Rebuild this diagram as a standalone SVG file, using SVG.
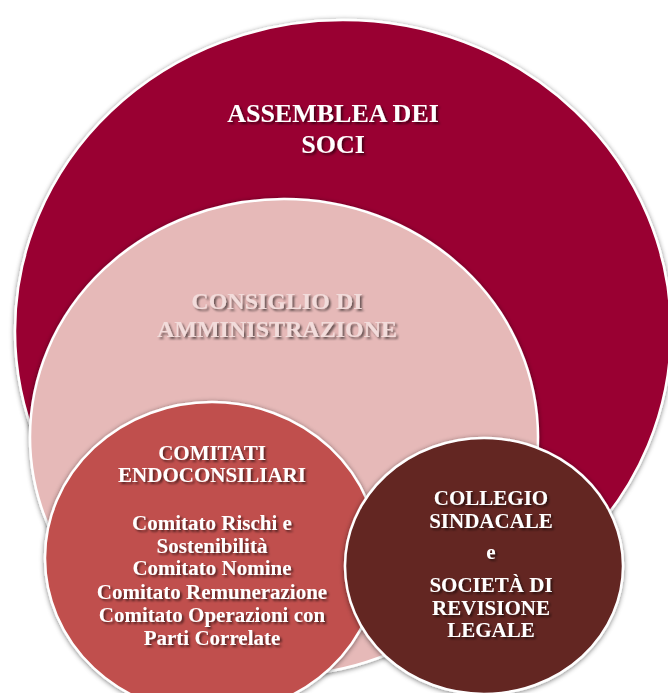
<svg xmlns="http://www.w3.org/2000/svg" width="668" height="693" viewBox="0 0 668 693">
<defs>
<filter id="sh" x="-10%" y="-10%" width="120%" height="120%">
<feGaussianBlur in="SourceAlpha" stdDeviation="2.5"/>
<feOffset dx="0" dy="1" result="b"/>
<feFlood flood-color="#000" flood-opacity="0.5"/>
<feComposite in2="b" operator="in"/>
<feMerge><feMergeNode/><feMergeNode in="SourceGraphic"/></feMerge>
</filter>
<filter id="tsh" x="-10%" y="-30%" width="120%" height="160%">
<feGaussianBlur in="SourceAlpha" stdDeviation="1"/>
<feOffset dx="1.5" dy="1.5" result="b"/>
<feFlood flood-color="#000" flood-opacity="0.55"/>
<feComposite in2="b" operator="in"/>
<feMerge><feMergeNode/><feMergeNode in="SourceGraphic"/></feMerge>
</filter>
</defs>
<style>
.c{stroke:#fff;stroke-width:2.5;filter:url(#sh)}
text{font-family:"Liberation Serif","Times New Roman",serif;font-weight:bold;text-anchor:middle;fill:#fff}
.t{filter:url(#tsh)}
.p{fill:#F2DCDB}
</style>
<rect width="668" height="693" fill="#fff"/>
<g id="assemblea">
<ellipse class="c" cx="343" cy="331" rx="328" ry="311" fill="#990030"/>
<g class="t"><text x="333" y="122" font-size="26">ASSEMBLEA DEI</text><text x="333" y="153" font-size="26">SOCI</text></g>
</g>
<g id="consiglio">
<ellipse class="c" cx="284" cy="437" rx="254" ry="238" fill="#E6B9B8"/>
<g class="t"><text class="p" x="277" y="309" font-size="24">CONSIGLIO DI</text><text class="p" x="277" y="337" font-size="24">AMMINISTRAZIONE</text></g>
</g>
<g id="comitati">
<ellipse class="c" cx="212" cy="558" rx="167" ry="156" fill="#C0504D"/>
<g class="t" font-size="21">
<text x="212" y="460">COMITATI</text>
<text x="212" y="482">ENDOCONSILIARI</text>
<text x="212" y="530">Comitato Rischi e</text>
<text x="212" y="553">Sostenibilità</text>
<text x="212" y="575">Comitato Nomine</text>
<text x="212" y="599">Comitato Remunerazione</text>
<text x="212" y="622">Comitato Operazioni con</text>
<text x="212" y="645">Parti Correlate</text>
</g>
</g>
<g id="collegio">
<ellipse class="c" cx="484" cy="566" rx="139" ry="128" fill="#632523"/>
<g class="t" font-size="21">
<text x="491" y="505">COLLEGIO</text>
<text x="491" y="528">SINDACALE</text>
<text x="491" y="559">e</text>
<text x="491" y="592">SOCIETÀ DI</text>
<text x="491" y="615">REVISIONE</text>
<text x="491" y="637">LEGALE</text>
</g>
</g>
<g id="connectors"/>
</svg>
